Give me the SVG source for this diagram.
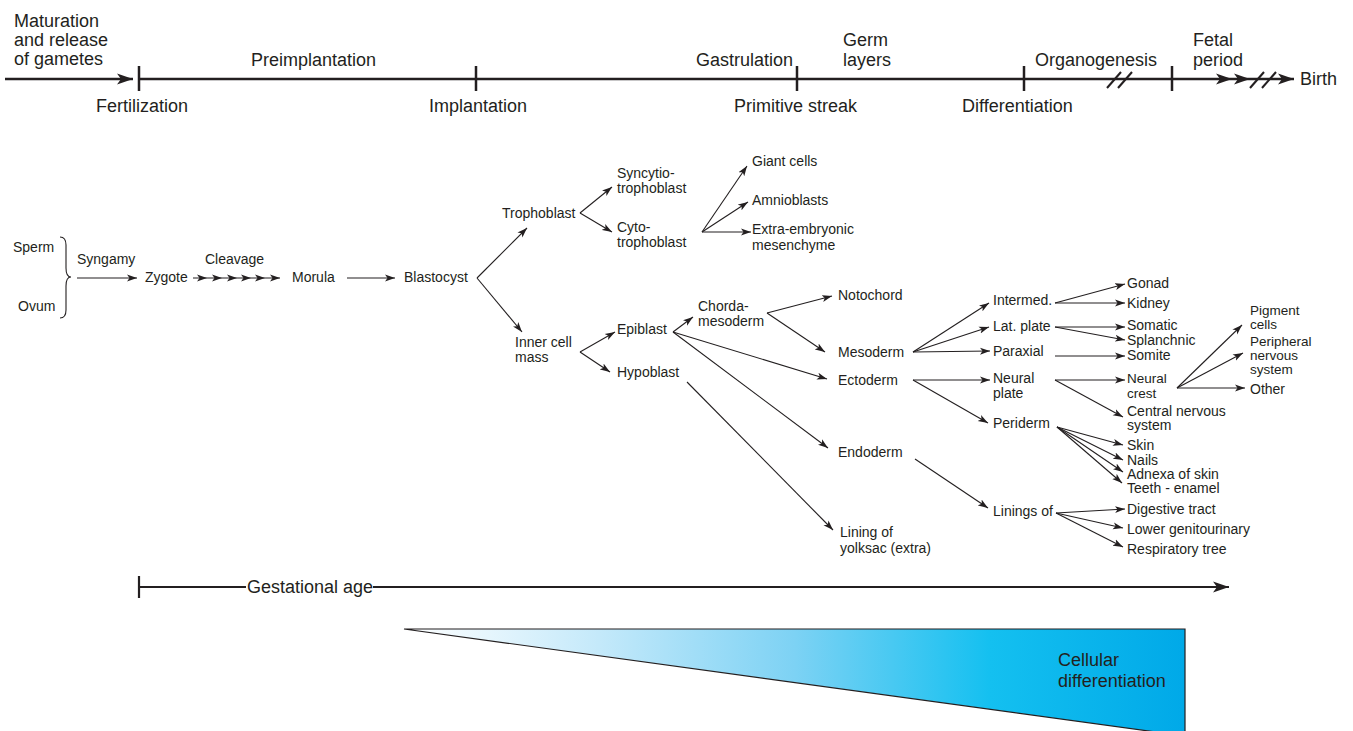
<svg xmlns="http://www.w3.org/2000/svg" width="1353" height="731" viewBox="0 0 1353 731">
<style>
text{font-family:"Liberation Sans",Arial,sans-serif;fill:#231f20}
.big{font-size:18px}
.sm{font-size:14px}
.xs{font-size:13.5px}
.tl{stroke:#231f20;stroke-width:2.5;fill:none}
.tk{stroke:#231f20;stroke-width:2.5}
.sl{stroke:#231f20;stroke-width:2}
.c{stroke:#231f20;stroke-width:1.1;fill:none;marker-end:url(#a)}
</style>
<defs>
<marker id="a" markerUnits="userSpaceOnUse" markerWidth="11" markerHeight="8" refX="10" refY="3.5" orient="auto" viewBox="0 0 11 7">
<path d="M0,0 L10,3.5 L0,7 L2.5,3.5 z" fill="#231f20"/>
</marker>
<marker id="A" markerUnits="userSpaceOnUse" markerWidth="17" markerHeight="12" refX="16" refY="5.5" orient="auto" viewBox="0 0 17 11">
<path d="M0,0 L16,5.5 L0,11 L4,5.5 z" fill="#231f20"/>
</marker>
<linearGradient id="g" x1="404" y1="0" x2="1185" y2="0" gradientUnits="userSpaceOnUse">
<stop offset="0" stop-color="#ffffff"/>
<stop offset="0.25" stop-color="#c4e9fa"/>
<stop offset="0.5" stop-color="#7dd2f4"/>
<stop offset="0.75" stop-color="#14c0f0"/>
<stop offset="1" stop-color="#00a9e8"/>
</linearGradient>
</defs>

<g id="timeline">
<line class="tl" x1="5" y1="79" x2="133" y2="79" marker-end="url(#A)"/>
<line class="tl" x1="139" y1="79" x2="1232" y2="79" marker-end="url(#A)"/>
<line class="tl" x1="1232" y1="79" x2="1250" y2="79" marker-end="url(#A)"/>
<line class="tl" x1="1250" y1="79" x2="1294" y2="79" marker-end="url(#A)"/>
<line class="tk" x1="139" y1="66" x2="139" y2="91"/>
<line class="tk" x1="476" y1="66" x2="476" y2="91"/>
<line class="tk" x1="797" y1="66" x2="797" y2="91"/>
<line class="tk" x1="1024" y1="66" x2="1024" y2="91"/>
<line class="tk" x1="1172" y1="66" x2="1172" y2="91"/>
<line class="sl" x1="1107" y1="88" x2="1121" y2="72"/>
<line class="sl" x1="1118" y1="88" x2="1132" y2="72"/>
<line class="sl" x1="1250" y1="88" x2="1264" y2="72"/>
<line class="sl" x1="1262" y1="88" x2="1276" y2="72"/>
<text class="big" x="14" y="27">Maturation</text>
<text class="big" x="14" y="46">and release</text>
<text class="big" x="14" y="65">of gametes</text>
<text class="big" x="251" y="66">Preimplantation</text>
<text class="big" x="696" y="66">Gastrulation</text>
<text class="big" x="843" y="46">Germ</text>
<text class="big" x="843" y="66">layers</text>
<text class="big" x="1035" y="66">Organogenesis</text>
<text class="big" x="1193" y="46">Fetal</text>
<text class="big" x="1193" y="66">period</text>
<text class="big" x="1300" y="85">Birth</text>
<text class="big" x="96" y="112">Fertilization</text>
<text class="big" x="429" y="112">Implantation</text>
<text class="big" x="734" y="112">Primitive streak</text>
<text class="big" x="962" y="112">Differentiation</text>
</g>

<g id="connectors">
<path d="M60,237 Q66,237 66,245 L66,268 Q66,277 71,277 Q66,277 66,286 L66,310 Q66,318 60,318" stroke="#231f20" stroke-width="1.1" fill="none"/>
<line class="c" x1="77" y1="278" x2="137" y2="278"/>
<polyline class="c" points="193,278 207,278 222,278 237,278 251,278 265,278 280,278" marker-mid="url(#a)"/>
<line class="c" x1="347" y1="278" x2="395" y2="278"/>
<line class="c" x1="477" y1="278" x2="527" y2="228"/>
<line class="c" x1="477" y1="278" x2="522" y2="332"/>
<line class="c" x1="580" y1="213" x2="612" y2="187"/>
<line class="c" x1="580" y1="213" x2="612" y2="232"/>
<line class="c" x1="702" y1="232" x2="747" y2="166"/>
<line class="c" x1="702" y1="232" x2="748" y2="202"/>
<line class="c" x1="702" y1="232" x2="751" y2="232"/>
<line class="c" x1="580" y1="352" x2="615" y2="332"/>
<line class="c" x1="580" y1="352" x2="610" y2="372"/>
<line class="c" x1="673" y1="332" x2="693" y2="317"/>
<line class="c" x1="673" y1="332" x2="827" y2="379"/>
<line class="c" x1="673" y1="332" x2="828" y2="448"/>
<line class="c" x1="767" y1="313" x2="832" y2="296"/>
<line class="c" x1="767" y1="313" x2="825" y2="352"/>
<line class="c" x1="687" y1="382" x2="833" y2="530"/>
<line class="c" x1="913" y1="352" x2="989" y2="303"/>
<line class="c" x1="913" y1="352" x2="989" y2="327"/>
<line class="c" x1="913" y1="352" x2="990" y2="351"/>
<line class="c" x1="913" y1="380" x2="990" y2="380"/>
<line class="c" x1="913" y1="380" x2="988" y2="423"/>
<line class="c" x1="915" y1="459" x2="988" y2="508"/>
<line class="c" x1="1055" y1="303" x2="1125" y2="284"/>
<line class="c" x1="1055" y1="303" x2="1125" y2="303"/>
<line class="c" x1="1055" y1="327" x2="1125" y2="327"/>
<line class="c" x1="1055" y1="327" x2="1125" y2="340"/>
<line class="c" x1="1055" y1="356" x2="1125" y2="356"/>
<line class="c" x1="1055" y1="380" x2="1125" y2="380"/>
<line class="c" x1="1055" y1="380" x2="1123" y2="417"/>
<line class="c" x1="1177" y1="388" x2="1242" y2="325"/>
<line class="c" x1="1177" y1="388" x2="1243" y2="353"/>
<line class="c" x1="1177" y1="388" x2="1245" y2="388"/>
<line class="c" x1="1057" y1="427" x2="1123" y2="445"/>
<line class="c" x1="1057" y1="427" x2="1123" y2="460"/>
<line class="c" x1="1057" y1="427" x2="1123" y2="472"/>
<line class="c" x1="1057" y1="427" x2="1122" y2="483"/>
<line class="c" x1="1056" y1="513" x2="1125" y2="509"/>
<line class="c" x1="1056" y1="513" x2="1123" y2="528"/>
<line class="c" x1="1056" y1="513" x2="1123" y2="547"/>
</g>

<g id="sperm"><text class="sm" x="13" y="252">Sperm</text></g>
<g id="ovum"><text class="sm" x="18" y="311">Ovum</text></g>
<g id="syngamy"><text class="sm" x="77" y="264">Syngamy</text></g>
<g id="zygote"><text class="sm" x="145" y="282">Zygote</text></g>
<g id="cleavage"><text class="sm" x="205" y="264">Cleavage</text></g>
<g id="morula"><text class="sm" x="292" y="282">Morula</text></g>
<g id="blastocyst"><text class="sm" x="404" y="282">Blastocyst</text></g>
<g id="trophoblast"><text class="sm" x="502" y="218">Trophoblast</text></g>
<g id="syncytiotrophoblast"><text class="sm" x="617" y="178">Syncytio-</text><text class="sm" x="617" y="193">trophoblast</text></g>
<g id="cytotrophoblast"><text class="sm" x="617" y="232">Cyto-</text><text class="sm" x="617" y="247">trophoblast</text></g>
<g id="giant"><text class="sm" x="752" y="166">Giant cells</text></g>
<g id="amnioblasts"><text class="sm" x="752" y="205">Amnioblasts</text></g>
<g id="extraembryonic"><text class="sm" x="752" y="234">Extra-embryonic</text><text class="sm" x="752" y="250">mesenchyme</text></g>
<g id="icm"><text class="sm" x="515" y="347">Inner cell</text><text class="sm" x="515" y="362">mass</text></g>
<g id="epiblast"><text class="sm" x="617" y="334">Epiblast</text></g>
<g id="hypoblast"><text class="sm" x="617" y="377">Hypoblast</text></g>
<g id="chordamesoderm"><text class="sm" x="698" y="311">Chorda-</text><text class="sm" x="698" y="326">mesoderm</text></g>
<g id="notochord"><text class="sm" x="838" y="300">Notochord</text></g>
<g id="mesoderm"><text class="sm" x="838" y="357">Mesoderm</text></g>
<g id="ectoderm"><text class="sm" x="838" y="385">Ectoderm</text></g>
<g id="endoderm"><text class="sm" x="838" y="457">Endoderm</text></g>
<g id="yolksac"><text class="sm" x="840" y="537">Lining of</text><text class="sm" x="840" y="553">yolksac (extra)</text></g>
<g id="intermed"><text class="sm" x="993" y="305">Intermed.</text></g>
<g id="latplate"><text class="sm" x="993" y="331">Lat. plate</text></g>
<g id="paraxial"><text class="sm" x="993" y="356">Paraxial</text></g>
<g id="neuralplate"><text class="sm" x="993" y="383">Neural</text><text class="sm" x="993" y="398">plate</text></g>
<g id="periderm"><text class="sm" x="993" y="428">Periderm</text></g>
<g id="linings"><text class="sm" x="993" y="516">Linings of</text></g>
<g id="gonad"><text class="sm" x="1127" y="288">Gonad</text></g>
<g id="kidney"><text class="sm" x="1127" y="308">Kidney</text></g>
<g id="somatic"><text class="sm" x="1127" y="330">Somatic</text></g>
<g id="splanchnic"><text class="sm" x="1127" y="345">Splanchnic</text></g>
<g id="somite"><text class="sm" x="1127" y="360">Somite</text></g>
<g id="neuralcrest"><text class="xs" x="1127" y="383">Neural</text><text class="xs" x="1127" y="398">crest</text></g>
<g id="cns"><text class="sm" x="1127" y="416">Central nervous</text><text class="sm" x="1127" y="430">system</text></g>
<g id="skin"><text class="sm" x="1127" y="450">Skin</text></g>
<g id="nails"><text class="sm" x="1127" y="465">Nails</text></g>
<g id="adnexa"><text class="sm" x="1127" y="479">Adnexa of skin</text></g>
<g id="teeth"><text class="sm" x="1127" y="493">Teeth - enamel</text></g>
<g id="digestive"><text class="sm" x="1127" y="514">Digestive tract</text></g>
<g id="genito"><text class="sm" x="1127" y="534">Lower genitourinary</text></g>
<g id="respiratory"><text class="sm" x="1127" y="554">Respiratory tree</text></g>
<g id="pigment"><text class="xs" x="1250" y="315">Pigment</text><text class="xs" x="1250" y="329">cells</text></g>
<g id="pns"><text class="xs" x="1250" y="346">Peripheral</text><text class="xs" x="1250" y="360">nervous</text><text class="xs" x="1250" y="374">system</text></g>
<g id="other"><text class="sm" x="1250" y="394">Other</text></g>

<g id="gestational">
<line x1="139" y1="576" x2="139" y2="598" stroke="#231f20" stroke-width="2.2"/>
<line x1="139" y1="587" x2="246" y2="587" stroke="#231f20" stroke-width="2"/>
<line x1="373" y1="587" x2="1229" y2="587" stroke="#231f20" stroke-width="2" marker-end="url(#A)"/>
<text class="big" x="247" y="593">Gestational age</text>
</g>

<g id="differentiation">
<polygon points="404,629 1185,629 1185,736" fill="url(#g)" stroke="#231f20" stroke-width="1.2"/>
<text class="big" x="1058" y="666">Cellular</text>
<text class="big" x="1058" y="687">differentiation</text>
</g>
</svg>
